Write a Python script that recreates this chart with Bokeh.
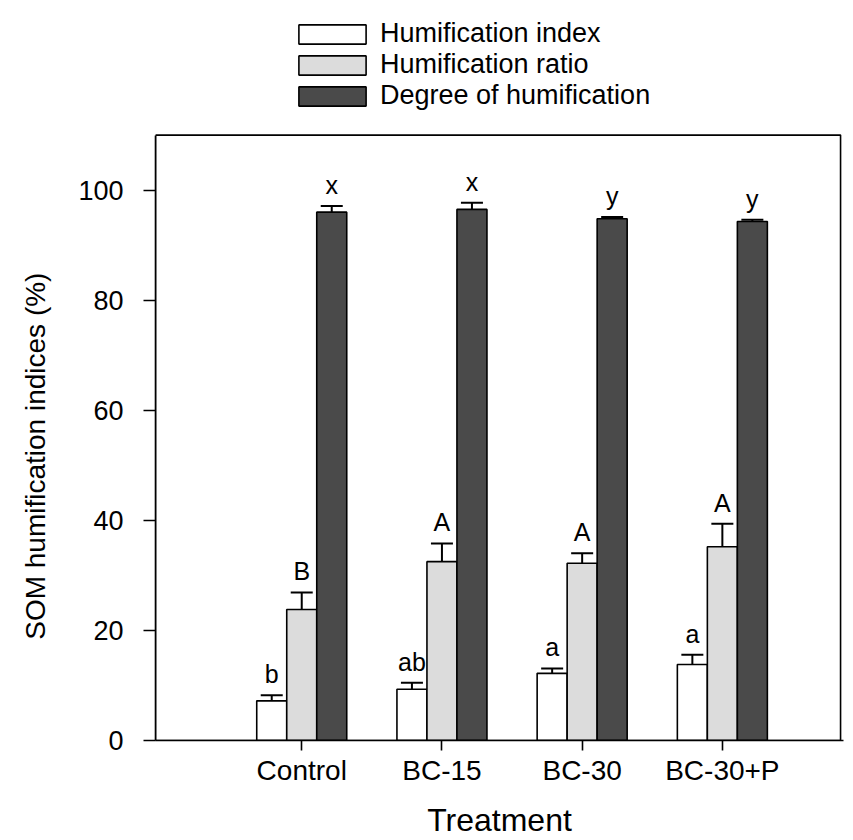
from bokeh.plotting import figure
from bokeh.models import (ColumnDataSource, Whisker, TeeHead, LabelSet, Legend,
                          LegendItem, FixedTicker, Range1d, BoxAnnotation)
from bokeh.core.properties import value
from bokeh.embed import file_html
from bokeh.resources import INLINE

treatments = ["Control", "BC-15", "BC-30", "BC-30+P"]
hi_vals = [7.2, 9.3, 12.2, 13.8]
hi_errs = [1.0, 1.2, 0.9, 1.8]
hr_vals = [23.8, 32.5, 32.2, 35.2]
hr_errs = [3.1, 3.3, 1.8, 4.2]
dh_vals = [96.0, 96.5, 94.8, 94.3]
dh_errs = [1.1, 1.2, 0.3, 0.3]
hi_letters = ["b", "ab", "a", "a"]
hr_letters = ["B", "A", "A", "A"]
dh_letters = ["x", "x", "y", "y"]
y_ticks = [0, 20, 40, 60, 80, 100]
series_names = ["Humification index", "Humification ratio", "Degree of humification"]

FONT = "Liberation Sans"
BW = 0.214
X0, X1, XBOX = -0.043, 4.864, 4.843
YAX = 110
pos = [i + 1 for i in range(len(treatments))]

p = figure(width=853, height=840, output_backend="svg", toolbar_location=None,
           x_range=Range1d(X0, X1), y_range=Range1d(0, 133),
           min_border_left=155, min_border_right=10, min_border_top=8,
           min_border_bottom=96)
p.background_fill_color = "white"
p.border_fill_color = "white"
p.outline_line_color = None
p.xgrid.visible = False
p.ygrid.visible = False

# plot box (top and right edges) up to the top of the axis
p.add_layout(BoxAnnotation(bottom=0, top=YAX, right=XBOX, fill_alpha=0,
                           line_color="black", line_width=1.6, line_alpha=1))

series = [
    (hi_vals, hi_errs, hi_letters, -BW, "white"),
    (hr_vals, hr_errs, hr_letters, 0.0, "#dcdcdc"),
    (dh_vals, dh_errs, dh_letters, BW, "#4a4a4a"),
]
renderers = []
for vals, errs, letters, off, color in series:
    xs = [x + off for x in pos]
    tops = [v + e for v, e in zip(vals, errs)]
    src = ColumnDataSource(dict(x=xs, top=vals, up=tops, lab=letters))
    r = p.vbar(x="x", top="top", bottom=0, width=BW, source=src,
               fill_color=color, line_color="black", line_width=1.6)
    renderers.append(r)
    w = Whisker(base="x", lower="top", upper="up", source=src, dimension="height",
                line_color="black", line_width=2,
                upper_head=TeeHead(size=22, line_color="black", line_width=2),
                lower_head=None)
    p.add_layout(w)
    ls = LabelSet(x="x", y="up", text="lab", source=src, text_align="center",
                  text_baseline="alphabetic", y_offset=12, text_font=value(FONT),
                  text_font_size="25px", text_color="black")
    p.add_layout(ls)

legend = Legend(items=[LegendItem(label=n, renderers=[r]) for n, r in zip(series_names, renderers)],
                location=(135, 629), glyph_width=84, glyph_height=24,
                label_standoff=6, spacing=-4, padding=0, margin=0,
                label_text_font=FONT, label_text_font_size="27px",
                label_text_color="black",
                border_line_color=None, background_fill_alpha=0)
p.add_layout(legend, "center")

p.xaxis.ticker = FixedTicker(ticks=pos)
p.xaxis.major_label_overrides = {x: t for x, t in zip(pos, treatments)}
p.xaxis.minor_tick_line_color = None
p.xaxis.major_tick_out = 10
p.xaxis.major_tick_in = 0
p.xaxis.major_label_standoff = 4
p.xaxis.major_label_text_font = FONT
p.xaxis.major_label_text_font_size = "28px"
p.xaxis.major_label_text_color = "black"
p.xaxis.axis_line_width = 1.6
p.xaxis.major_tick_line_width = 1.6
p.xaxis.axis_label = "Treatment"
p.xaxis.axis_label_text_font = FONT
p.xaxis.axis_label_text_font_size = "32px"
p.xaxis.axis_label_text_font_style = "normal"
p.xaxis.axis_label_text_color = "black"
p.xaxis.axis_label_standoff = 13

p.yaxis.ticker = FixedTicker(ticks=y_ticks)
p.yaxis.bounds = (0, YAX)
p.yaxis.minor_tick_line_color = None
p.yaxis.major_tick_out = 12
p.yaxis.major_tick_in = 0
p.yaxis.major_label_standoff = 20
p.yaxis.major_label_text_font = FONT
p.yaxis.major_label_text_font_size = "27px"
p.yaxis.major_label_text_color = "black"
p.yaxis.axis_line_width = 1.6
p.yaxis.major_tick_line_width = 1.6
# non-breaking padding keeps the title centred on the 0-110 part of the axis
p.yaxis.axis_label = "SOM humification indices (%)" + "\u00a0" * 21
p.yaxis.axis_label_text_font = FONT
p.yaxis.axis_label_text_font_size = "28px"
p.yaxis.axis_label_text_font_style = "normal"
p.yaxis.axis_label_text_color = "black"
p.yaxis.axis_label_standoff = 24

open("out.html", "w").write(file_html(p, INLINE))
